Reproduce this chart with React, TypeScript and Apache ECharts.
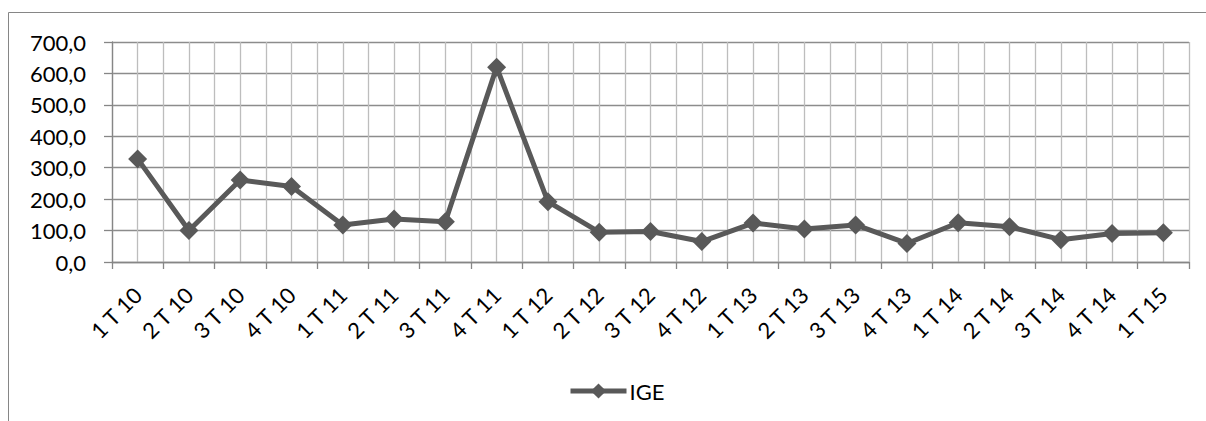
import React, { useEffect, useRef } from "react";
import * as echarts from "echarts";

const categories = [
  "1 T 10", "2 T 10", "3 T 10", "4 T 10",
  "1 T 11", "2 T 11", "3 T 11", "4 T 11",
  "1 T 12", "2 T 12", "3 T 12", "4 T 12",
  "1 T 13", "2 T 13", "3 T 13", "4 T 13",
  "1 T 14", "2 T 14", "3 T 14", "4 T 14",
  "1 T 15",
];
const igeValues = [328, 100, 261, 240, 118, 137, 128, 620, 192, 95, 97, 65, 124, 105, 118, 59, 125, 112, 71, 91, 93];
const seriesName = "IGE";
const yMin = 0;
const yMax = 700;
const yStep = 100;

const FONT = "Lato, 'Open Sans', sans-serif";

export default function App() {
  const ref = useRef<HTMLDivElement>(null);
  useEffect(() => {
    if (!ref.current) return;
    const chart = echarts.init(ref.current, undefined, { renderer: "svg" });
    const n = categories.length;
    chart.setOption({
      animation: false,
      backgroundColor: "#ffffff",
      textStyle: { fontFamily: FONT },
      graphic: [
        {
          type: "rect",
          shape: { x: 8.5, y: 12.5, width: 1400, height: 600 },
          style: { fill: "none", stroke: "#868686", lineWidth: 1 },
          silent: true,
          z: -1,
        },
      ],
      grid: { left: 112, right: 17, top: 42, bottom: 159, containLabel: false },
      legend: {
        data: [seriesName],
        top: 375,
        left: 563,
        itemWidth: 56,
        itemHeight: 19,
        itemGap: 4,
        lineStyle: { width: 5, color: "#595959" },
        itemStyle: { color: "#595959" },
        textStyle: { fontFamily: FONT, fontSize: 22, color: "#000", padding: [0, 0, 0, -2] },
      },
      xAxis: [
        {
          type: "category",
          data: categories,
          boundaryGap: true,
          axisLine: { lineStyle: { color: "#868686", width: 1.3 } },
          axisTick: { show: true, length: 7, lineStyle: { color: "#868686", width: 1.3 } },
          splitLine: { show: false },
          axisLabel: {
            rotate: 45,
            interval: 0,
            margin: 29,
            fontFamily: FONT,
            fontSize: 22,
            color: "#000",
          },
        },
        {
          type: "value",
          position: "top",
          min: 0,
          max: n,
          interval: 0.5,
          axisLine: { show: false },
          axisTick: { show: false },
          axisLabel: { show: false },
          splitLine: { show: true, lineStyle: { color: "#bdbdbd", width: 1.3 } },
          z: 0,
        },
      ],
      yAxis: {
        type: "value",
        min: yMin,
        max: yMax,
        interval: yStep,
        axisLine: { show: true, lineStyle: { color: "#868686", width: 1.3 } },
        axisTick: { show: true, length: 8, lineStyle: { color: "#868686", width: 1.3 } },
        splitLine: { show: true, lineStyle: { color: "#8c8c8c", width: 1.3 } },
        axisLabel: {
          margin: 26,
          fontFamily: FONT,
          fontSize: 22,
          color: "#000",
          formatter: (v: number) => v.toFixed(1).replace(".", ","),
        },
      },
      series: [
        {
          name: seriesName,
          type: "line",
          xAxisIndex: 0,
          data: igeValues,
          symbol: "diamond",
          symbolSize: 19,
          showAllSymbol: true,
          lineStyle: { color: "#595959", width: 5 },
          itemStyle: { color: "#595959" },
          z: 5,
        },
      ],
    });
    return () => chart.dispose();
  }, []);
  return (
    <div
      ref={ref}
      style={{ position: "fixed", left: 0, top: 0, width: 1206, height: 421, background: "#fff" }}
    />
  );
}
